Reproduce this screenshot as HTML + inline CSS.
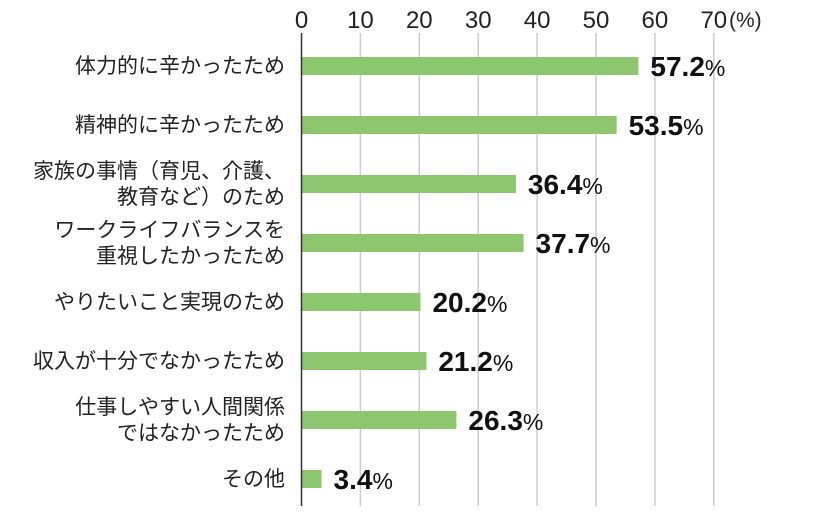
<!DOCTYPE html>
<html><head><meta charset="utf-8"><style>
body{margin:0;background:#fff;}
svg text{font-family:"Liberation Sans","Noto Sans CJK JP",sans-serif;}
</style></head><body>
<svg id="chart" width="821" height="516" viewBox="0 0 821 516" xmlns="http://www.w3.org/2000/svg"></svg>
<script>
const categories=[["体力的に辛かったため"],["精神的に辛かったため"],["家族の事情（育児、介護、","教育など）のため"],["ワークライフバランスを","重視したかったため"],["やりたいこと実現のため"],["収入が十分でなかったため"],["仕事しやすい人間関係","ではなかったため"],["その他"]];
const values=[57.2,53.5,36.4,37.7,20.2,21.2,26.3,3.4];
const ticks=[0,10,20,30,40,50,60,70];
const NS="http://www.w3.org/2000/svg";
const svg=document.getElementById('chart');
const x=v=>301.5+v*5.89;
const yc=i=>66+i*59;
function mk(t,a){const e=document.createElementNS(NS,t);for(const k in a)e.setAttribute(k,a[k]);svg.appendChild(e);return e;}
ticks.forEach((t,i)=>{
 if(i>0){const g=mk('line',{x1:x(t),x2:x(t),y1:33,y2:506,stroke:'#cccccc','stroke-width':1.5});
 
 }
 const tx=mk('text',{x:x(t),y:28,'font-size':24,'text-anchor':'middle',fill:'#222'});
 tx.textContent=t;
 
 
});
const u=mk('text',{x:729,y:27,'font-size':21,fill:'#222'});u.textContent='(%)';


values.forEach((v,i)=>{
 const r=mk('rect',{x:x(0),y:yc(i)-9,width:x(v)-x(0),height:18,fill:'#8dc66e'});
 
 
 const t=mk('text',{x:x(v)+12,y:yc(i)+10,'font-size':28,'font-weight':'bold',fill:'#111'});
 t.innerHTML=v.toFixed(1)+'<tspan font-size="23" font-weight="normal">%</tspan>';
 
 
 const lines=categories[i];
 lines.forEach((s,j)=>{
  const l=mk('text',{x:285,y:yc(i)+7+(j-(lines.length-1)/2)*26,'font-size':21,'text-anchor':'end',fill:'#222'});
  l.textContent=s;
  
  
 });
});
const ax=mk('line',{x1:x(0),x2:x(0),y1:33,y2:506,stroke:'#333','stroke-width':1.5});


</script>
</body></html>
